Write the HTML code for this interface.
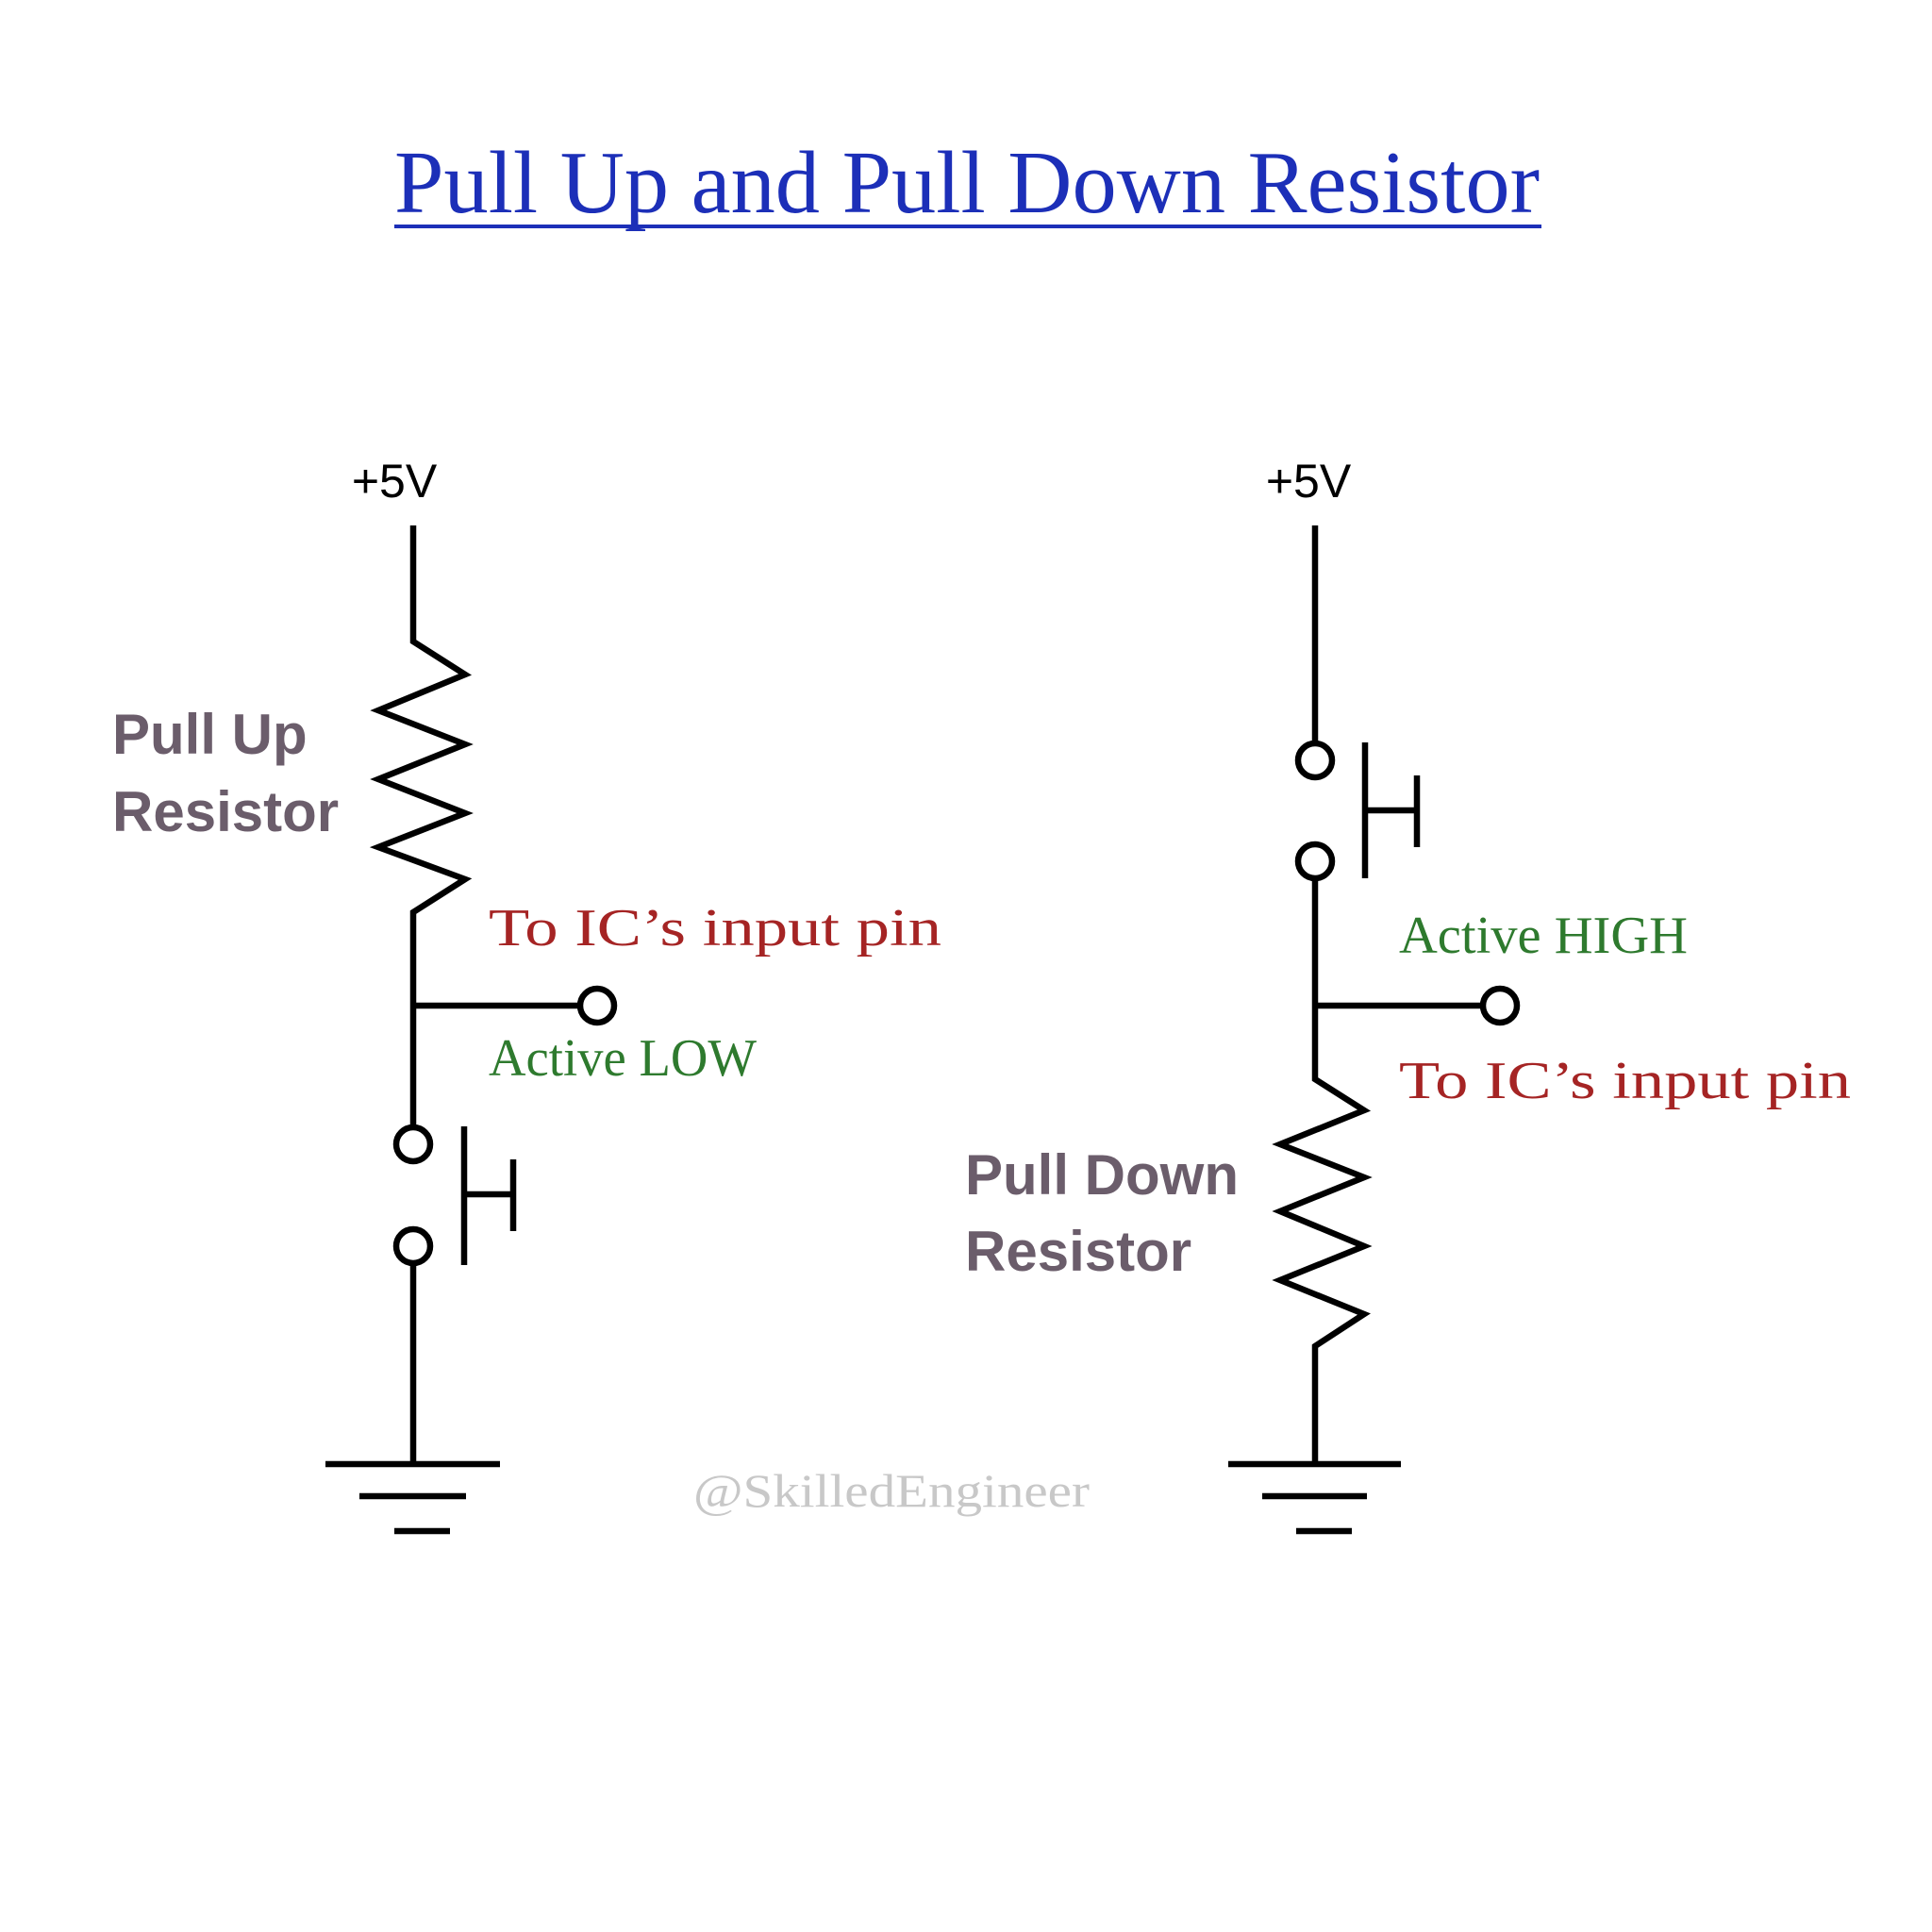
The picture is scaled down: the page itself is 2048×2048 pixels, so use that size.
<!DOCTYPE html>
<html><head><meta charset="utf-8"><style>
html,body{margin:0;padding:0;background:#fff;width:2048px;height:2048px;overflow:hidden}
</style></head><body>
<svg width="2048" height="2048" viewBox="0 0 2048 2048" xmlns="http://www.w3.org/2000/svg">
<rect width="2048" height="2048" fill="#fff"/>
<text x="418" y="225" font-family="Liberation Serif, serif" font-size="94" fill="#1c2fb8" textLength="1214" lengthAdjust="spacingAndGlyphs">Pull Up and Pull Down Resistor</text>
<rect x="418" y="238" width="1216" height="4" fill="#1c2fb8"/>

<g transform="translate(-2,-5)">
<g stroke="#000" stroke-width="6.5" fill="none">
<polyline points="440,562 440,685 495,720 403,758 495,794 403,831 495,867 403,903 495,937 440,972 440,1200"/>
<line x1="440" y1="1071" x2="617" y2="1071"/>
<circle cx="635" cy="1071" r="18" fill="#fff"/>
<circle cx="440" cy="1218" r="18" fill="#fff"/>
<circle cx="440" cy="1326" r="18" fill="#fff"/>
<line x1="440" y1="1344" x2="440" y2="1557"/>
<line x1="494" y1="1199" x2="494" y2="1346"/>
<line x1="494" y1="1271" x2="546" y2="1271"/>
<line x1="546" y1="1234" x2="546" y2="1310"/>
<line x1="347" y1="1557" x2="532" y2="1557"/>
<line x1="383" y1="1591" x2="496" y2="1591"/>
<line x1="420" y1="1628" x2="479" y2="1628"/>
</g>
<text x="420" y="532" text-anchor="middle" font-family="Liberation Sans, sans-serif" font-size="50">+5V</text>
<g font-family="Liberation Sans, sans-serif" font-weight="bold" font-size="60" fill="#6b5d6b">
<text x="121" y="804">Pull Up</text>
<text x="121" y="886">Resistor</text>
</g>
<g font-family="Liberation Serif, serif" font-size="56">
<text x="520" y="1007" fill="#a52424" textLength="480" lengthAdjust="spacingAndGlyphs">To IC’s input pin</text>
<text x="520" y="1145" fill="#2e7a2e" textLength="284" lengthAdjust="spacingAndGlyphs">Active LOW</text>
</g>
</g>

<g transform="translate(-7,-5)">
<g stroke="#000" stroke-width="6.5" fill="none">
<line x1="1401" y1="562" x2="1401" y2="793"/>
<circle cx="1401" cy="811" r="18" fill="#fff"/>
<circle cx="1401" cy="918" r="18" fill="#fff"/>
<polyline points="1401,936 1401,1149 1453,1182 1364,1218 1453,1253 1364,1289 1453,1326 1364,1362 1453,1398 1401,1432 1401,1557"/>
<line x1="1401" y1="1071" x2="1579" y2="1071"/>
<circle cx="1597" cy="1071" r="18" fill="#fff"/>
<line x1="1454" y1="792" x2="1454" y2="936"/>
<line x1="1454" y1="864" x2="1509" y2="864"/>
<line x1="1509" y1="827" x2="1509" y2="903"/>
<line x1="1309" y1="1557" x2="1492" y2="1557"/>
<line x1="1345" y1="1591" x2="1456" y2="1591"/>
<line x1="1381" y1="1628" x2="1440" y2="1628"/>
</g>
<text x="1394" y="532" text-anchor="middle" font-family="Liberation Sans, sans-serif" font-size="50">+5V</text>
<g font-family="Liberation Sans, sans-serif" font-weight="bold" font-size="60" fill="#6b5d6b">
<text x="1030" y="1271">Pull Down</text>
<text x="1030" y="1352">Resistor</text>
</g>
<g font-family="Liberation Serif, serif" font-size="56">
<text x="1490" y="1015" fill="#2e7a2e" textLength="306" lengthAdjust="spacingAndGlyphs">Active HIGH</text>
<text x="1490" y="1169" fill="#a52424" textLength="479" lengthAdjust="spacingAndGlyphs">To IC’s input pin</text>
</g>
</g>
<text x="735" y="1597" font-family="Liberation Serif, serif" fill="#c8c8c8" font-size="50" textLength="420" lengthAdjust="spacingAndGlyphs">@SkilledEngineer</text>
</svg>
</body></html>
